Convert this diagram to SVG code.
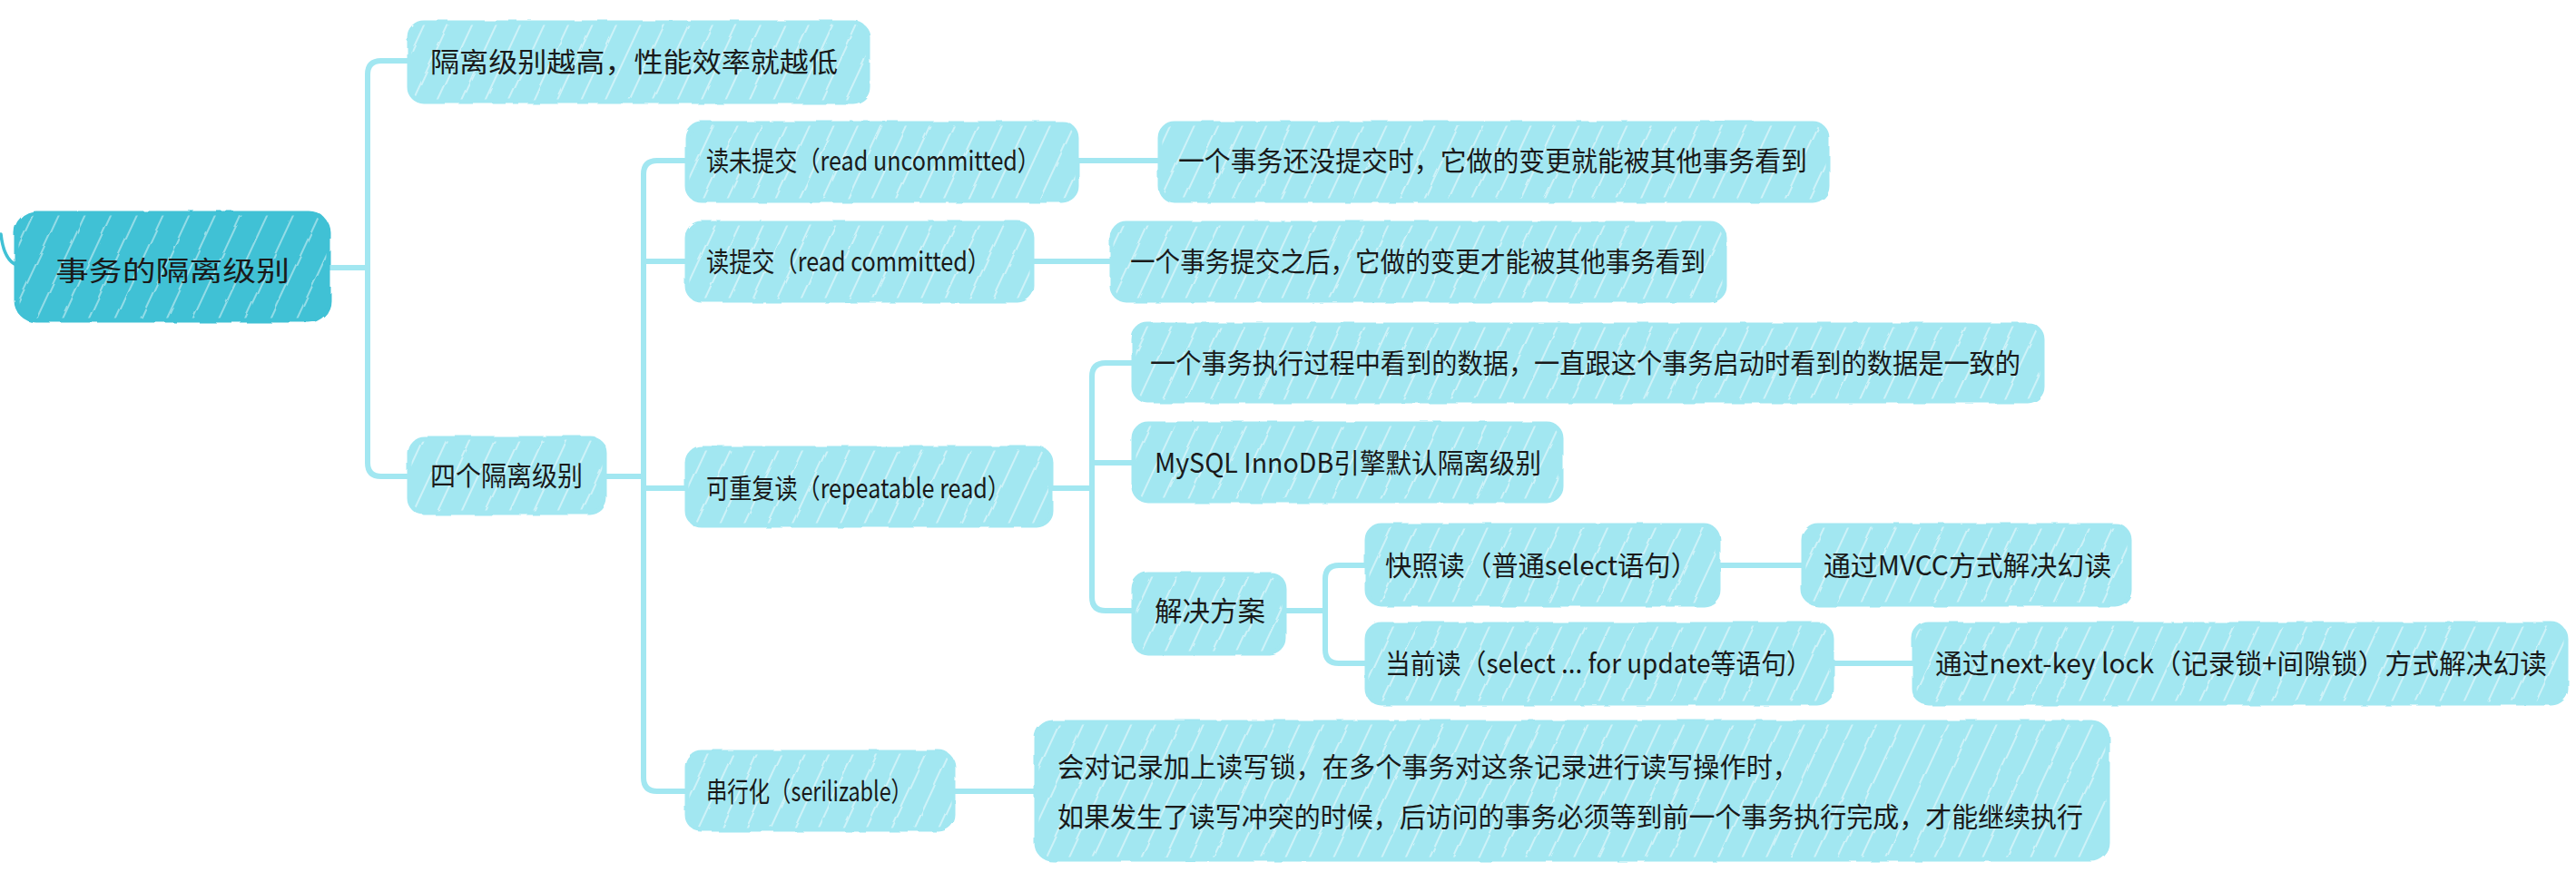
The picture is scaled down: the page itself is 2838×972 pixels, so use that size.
<svg xmlns="http://www.w3.org/2000/svg" width="2838" height="972" viewBox="0 0 2838 972">
<defs>
<pattern id="hl" width="24" height="24" patternUnits="userSpaceOnUse" patternTransform="rotate(25)">
<rect width="24" height="24" fill="#a2e7f1"/>
<line x1="3" y1="0" x2="3" y2="24" stroke="#ffffff" stroke-opacity="0.6" stroke-width="1.6"/>
</pattern>
<pattern id="hr" width="26" height="26" patternUnits="userSpaceOnUse" patternTransform="rotate(25)">
<rect width="26" height="26" fill="#41c1d5"/>
<line x1="3" y1="0" x2="3" y2="26" stroke="#ffffff" stroke-opacity="0.55" stroke-width="1.6"/>
</pattern>
<filter id="rough" x="-5%" y="-10%" width="110%" height="120%">
<feTurbulence type="fractalNoise" baseFrequency="0.04" numOctaves="2" seed="3"/>
<feDisplacementMap in="SourceGraphic" scale="3.5"/>
</filter>
</defs>
<style>
.box{fill:url(#hl);stroke:#a2e7f1;stroke-width:5;filter:url(#rough)}
.root{fill:url(#hr);stroke:#41c1d5;stroke-width:5;filter:url(#rough)}
.t{font-family:"Noto Sans CJK SC","Noto Sans",sans-serif;font-size:30px;fill:#1a1a1a}
.c{fill:none;stroke:#a2e7f1;stroke-width:6;stroke-linecap:round;stroke-linejoin:round}
.cr{fill:none;stroke:#41c1d5;stroke-width:3.5;stroke-linecap:round}
</style>
<rect width="2838" height="972" fill="#ffffff"/>
<g id="connectors">
<path class="cr" d="M1,258 Q4,286 18,292"/>
<path class="c" d="M362,295 H405"/>
<path class="c" d="M449,67 H420 Q405,67 405,82 V510 Q405,525 420,525 H449"/>
<path class="c" d="M666,525 H709"/>
<path class="c" d="M757,177 H724 Q709,177 709,192 V857 Q709,872 724,872 H757"/>
<path class="c" d="M709,288 H757"/>
<path class="c" d="M709,538 H757"/>
<path class="c" d="M1186,177 H1278"/>
<path class="c" d="M1137,288 H1225"/>
<path class="c" d="M1158,538 H1203"/>
<path class="c" d="M1249,400 H1218 Q1203,400 1203,415 V658 Q1203,673 1218,673 H1249"/>
<path class="c" d="M1203,510 H1249"/>
<path class="c" d="M1415,673 H1460"/>
<path class="c" d="M1506,623 H1475 Q1460,623 1460,638 V716 Q1460,731 1475,731 H1506"/>
<path class="c" d="M1893,623 H1987"/>
<path class="c" d="M2018,731 H2109"/>
<path class="c" d="M1050,872 H1140"/>
</g>
<g id="root">
<rect class="root" x="18" y="235" width="344" height="118" rx="22"/>
<text class="t" x="61" y="309" font-size="42" textLength="258" lengthAdjust="spacingAndGlyphs">事务的隔离级别</text>
</g>
<g id="n-perf">
<rect class="box" x="451" y="25" width="505" height="87" rx="16"/>
<text class="t" x="474" y="79" font-size="32" textLength="449" lengthAdjust="spacingAndGlyphs">隔离级别越高，性能效率就越低</text>
</g>
<g id="n-four">
<rect class="box" x="451" y="483" width="215" height="82" rx="16"/>
<text class="t" x="474" y="535" textLength="168" lengthAdjust="spacingAndGlyphs">四个隔离级别</text>
</g>
<g id="n-ru">
<rect class="box" x="757" y="136" width="429" height="85" rx="16"/>
<text class="t" x="778" y="188" textLength="368" lengthAdjust="spacingAndGlyphs">读未提交（read uncommitted）</text>
</g>
<g id="n-ru-leaf">
<rect class="box" x="1278" y="136" width="735" height="85" rx="16"/>
<text class="t" x="1298" y="188" textLength="693" lengthAdjust="spacingAndGlyphs">一个事务还没提交时，它做的变更就能被其他事务看到</text>
</g>
<g id="n-rc">
<rect class="box" x="757" y="246" width="380" height="85" rx="16"/>
<text class="t" x="778" y="299" textLength="313" lengthAdjust="spacingAndGlyphs">读提交（read committed）</text>
</g>
<g id="n-rc-leaf">
<rect class="box" x="1225" y="246" width="675" height="85" rx="16"/>
<text class="t" x="1245" y="299" textLength="634" lengthAdjust="spacingAndGlyphs">一个事务提交之后，它做的变更才能被其他事务看到</text>
</g>
<g id="n-rr">
<rect class="box" x="757" y="494" width="401" height="85" rx="16"/>
<text class="t" x="778" y="549" textLength="335" lengthAdjust="spacingAndGlyphs">可重复读（repeatable read）</text>
</g>
<g id="n-rr-1">
<rect class="box" x="1249" y="358" width="1001" height="84" rx="16"/>
<text class="t" x="1267" y="411" textLength="959" lengthAdjust="spacingAndGlyphs">一个事务执行过程中看到的数据，一直跟这个事务启动时看到的数据是一致的</text>
</g>
<g id="n-rr-2">
<rect class="box" x="1249" y="467" width="471" height="85" rx="16"/>
<text class="t" x="1272" y="521" textLength="426" lengthAdjust="spacingAndGlyphs">MySQL InnoDB引擎默认隔离级别</text>
</g>
<g id="n-sol">
<rect class="box" x="1249" y="633" width="166" height="87" rx="16"/>
<text class="t" x="1272" y="684" textLength="122" lengthAdjust="spacingAndGlyphs">解决方案</text>
</g>
<g id="n-snap">
<rect class="box" x="1506" y="579" width="387" height="87" rx="16"/>
<text class="t" x="1526" y="634" textLength="344" lengthAdjust="spacingAndGlyphs">快照读（普通select语句）</text>
</g>
<g id="n-mvcc">
<rect class="box" x="1987" y="579" width="359" height="87" rx="16"/>
<text class="t" x="2009" y="634" textLength="317" lengthAdjust="spacingAndGlyphs">通过MVCC方式解决幻读</text>
</g>
<g id="n-cur">
<rect class="box" x="1506" y="688" width="512" height="87" rx="16"/>
<text class="t" x="1526" y="742" textLength="470" lengthAdjust="spacingAndGlyphs">当前读（select ... for update等语句）</text>
</g>
<g id="n-nk">
<rect class="box" x="2109" y="688" width="718" height="87" rx="16"/>
<text class="t" x="2132" y="742" textLength="674" lengthAdjust="spacingAndGlyphs">通过next-key lock（记录锁+间隙锁）方式解决幻读</text>
</g>
<g id="n-ser">
<rect class="box" x="757" y="829" width="293" height="85" rx="16"/>
<text class="t" x="778" y="883" textLength="227" lengthAdjust="spacingAndGlyphs">串行化（serilizable）</text>
</g>
<g id="n-ser-leaf">
<rect class="box" x="1142" y="796" width="1180" height="151" rx="18"/>
<text class="t" x="1165" y="856" textLength="817" lengthAdjust="spacingAndGlyphs">会对记录加上读写锁，在多个事务对这条记录进行读写操作时，</text>
<text class="t" x="1165" y="911" textLength="1130" lengthAdjust="spacingAndGlyphs">如果发生了读写冲突的时候，后访问的事务必须等到前一个事务执行完成，才能继续执行</text>
</g>
</svg>
